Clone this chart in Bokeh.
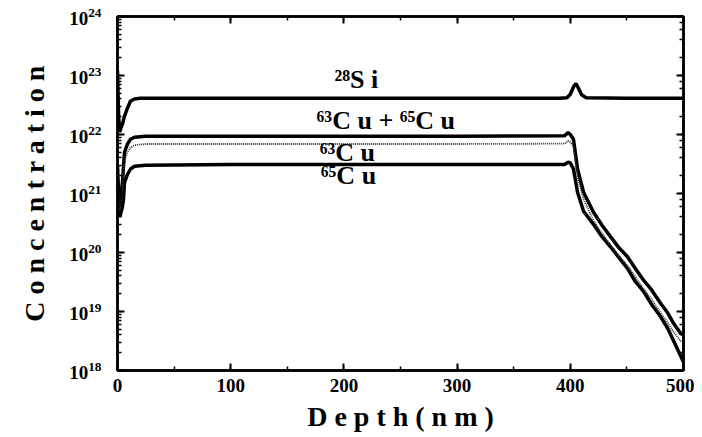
from bokeh.plotting import figure
from bokeh.models import LinearAxis, LogAxis, CustomJSTickFormatter, FixedTicker
from bokeh.core.properties import value
from bokeh.embed import file_html
from bokeh.resources import INLINE

# ---- data ----
si_depth = [0, 1, 2, 3, 4.4, 6, 8.8, 11.5, 15, 20, 50, 100, 200, 300, 390, 397, 400, 403, 405, 407, 410, 414, 450, 500]
si_conc = [1.2e23, 2.0e22, 1.1e22, 1.3e22, 1.5e22, 2.0e22, 2.8e22, 3.7e22, 4.0e22, 4.1e22, 4.1e22, 4.1e22, 4.1e22, 4.1e22,
           4.1e22, 4.2e22, 4.8e22, 6.5e22, 7.3e22, 6.2e22, 4.7e22, 4.2e22, 4.1e22, 4.1e22]

cu_depth = [0, 1, 2, 2.7, 4.4, 5.3, 6.2, 8.8, 11.5, 15, 25, 100, 200, 300, 395, 398, 400, 402.8, 406.4, 411.7, 420.5,
            428, 435.5, 443, 450.5, 457, 464.7, 472, 479.7, 486, 491.2, 497.3, 500]
cu_total = [3.0e21, 1.0e21, 6.0e20, 8.0e20, 1.55e21, 2.9e21, 5.0e21, 6.9e21, 8.3e21, 9.0e21, 9.3e21, 9.3e21, 9.3e21, 9.3e21,
            9.5e21, 1.08e22, 1.0e22, 8.3e21, 2.6e21, 1.05e21, 4.8e20, 2.9e20, 1.86e20, 1.2e20, 8.5e19, 5.5e19, 3.4e19,
            2.3e19, 1.38e19, 9.5e18, 6.3e18, 4.3e18, 4.0e18]
cu63 = [2.0e21, 7.0e20, 5.0e20, 6.5e20, 1.2e21, 2.2e21, 3.6e21, 5.0e21, 6.0e21, 6.6e21, 6.9e21, 6.9e21, 6.9e21, 6.9e21,
        7.0e21, 7.8e21, 7.4e21, 6.3e21, 1.9e21, 8.0e20, 3.5e20, 2.1e20, 1.35e20, 8.8e19, 6.0e19, 4.0e19, 2.4e19,
        1.6e19, 9.5e18, 6.5e18, 4.5e18, 3.2e18, 3.0e18]
cu65 = [1.0e21, 5.0e20, 4.0e20, 4.5e20, 6.0e20, 8.0e20, 1.55e21, 2.1e21, 2.6e21, 2.9e21, 3.0e21, 3.1e21, 3.1e21, 3.1e21,
        3.1e21, 3.4e21, 3.3e21, 2.6e21, 1.05e21, 5.0e20, 3.0e20, 1.85e20, 1.25e20, 8.2e19, 5.4e19, 3.3e19, 2.2e19,
        1.3e19, 8.2e18, 5.2e18, 3.2e18, 1.8e18, 1.4e18]

labels_text = ["\u00b2\u2078S i", "\u2076\u00b3C u + \u2076\u2075C u", "\u2076\u00b3C u", "\u2076\u2075C u"]
labels_x = [211, 237, 203, 204]
labels_y = [8.7e22, 1.7e22, 5.0e21, 2.0e21]

x_ticks = [0, 100, 200, 300, 400, 500]

FONT = "Liberation Serif"

p = figure(width=694, height=436, x_range=(0, 500), y_range=(1e18, 1e24), y_axis_type="log",
           output_backend="svg", toolbar_location=None,
           min_border_left=117, min_border_right=11, min_border_top=16, min_border_bottom=66,
           background_fill_color="white", border_fill_color="white")

p.grid.visible = False
p.outline_line_color = "black"
p.outline_line_width = 2.5

p.line(si_depth, si_conc, line_color="black", line_width=3.5)
p.line(cu_depth, cu_total, line_color="black", line_width=3.5)
p.line(cu_depth, cu65, line_color="black", line_width=3.5)
p.line(cu_depth, cu63, line_color="#333333", line_width=1.8, line_dash="1 1")

p.text(x=labels_x, y=labels_y, text=labels_text, text_font=value(FONT), text_font_style="bold",
       text_font_size="26px", text_align="center", text_baseline="middle", text_color="black")

xa = p.xaxis[0]
xa.ticker = FixedTicker(ticks=x_ticks, minor_ticks=list(range(0, 501, 50)))
xa.axis_label = "D e p t h ( n m )"
ya = p.yaxis[0]
ya.axis_label = "C o n c e n t r a t i o n"

for ax in (xa, ya):
    ax.axis_line_width = 2.5
    ax.axis_line_color = "black"
    ax.major_tick_in = 7
    ax.major_tick_out = 0
    ax.minor_tick_in = 4
    ax.minor_tick_out = 0
    ax.major_tick_line_width = 2
    ax.minor_tick_line_width = 1.5
    ax.major_label_text_font = FONT
    ax.major_label_text_font_style = "bold"
    ax.major_label_text_font_size = "19px"
    ax.major_label_text_color = "black"
    ax.axis_label_text_font = FONT
    ax.axis_label_text_font_style = "bold"
    ax.axis_label_text_font_size = "28px"
    ax.axis_label_text_color = "black"

xa.major_label_standoff = 8
xa.axis_label_standoff = 6
ya.major_label_standoff = 16
ya.axis_label_standoff = 16

blank = CustomJSTickFormatter(code="return '';")
top = LinearAxis(ticker=FixedTicker(ticks=x_ticks, minor_ticks=list(range(0, 501, 50))), formatter=blank)
right = LogAxis(formatter=blank)
for ax in (top, right):
    ax.axis_line_width = 2.5
    ax.major_tick_in = 7
    ax.major_tick_out = 0
    ax.minor_tick_in = 4
    ax.minor_tick_out = 0
    ax.major_tick_line_width = 2
    ax.minor_tick_line_width = 1.5
    ax.major_label_standoff = 0
p.add_layout(top, "above")
p.add_layout(right, "right")

open("out.html", "w").write(file_html(p, INLINE))
